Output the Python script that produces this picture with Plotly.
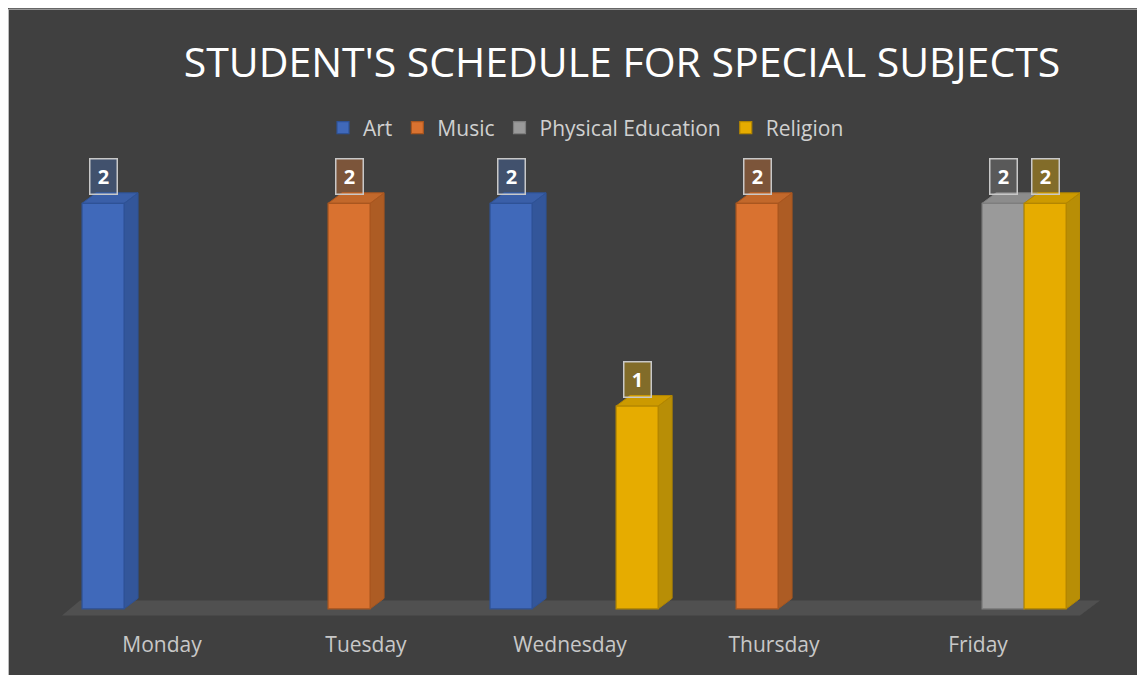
import plotly.graph_objects as go

# ---- data ----
days = ["Monday", "Tuesday", "Wednesday", "Thursday", "Friday"]
series_names = ["Art", "Music", "Physical Education", "Religion"]
art = [2, None, 2, None, None]
music = [None, 2, None, 2, None]
phys_ed = [None, None, None, None, 2]
religion = [None, None, 1, None, 2]

# ---- styles ----
front_colors = ["#4069BA", "#D97230", "#9A9A9A", "#E6AC00"]
edge_colors = ["#2E5296", "#A9561F", "#7E7E7E", "#B38600"]
side_colors = ["#33569A", "#AD5C24", "#808080", "#B88E06"]
top_colors = ["#3A5FA8", "#C2682B", "#8C8C8C", "#CC9A00"]
label_fill = ["rgba(68,114,196,0.35)", "rgba(237,125,49,0.35)",
              "rgba(165,165,165,0.25)", "rgba(255,192,0,0.35)"]

values = [art, music, phys_ed, religion]
bar_w = 0.206
offsets = [-0.289, -0.083, 0.123, 0.329]
dx, dy = 0.0686, 0.052  # pseudo-3D depth in axis units

fig = go.Figure()
shapes = []

# outer frame border
shapes.append(dict(type="rect", xref="paper", yref="paper",
                   x0=-0.0505, x1=1.09, y0=-0.15, y1=1.1795,
                   fillcolor="rgba(0,0,0,0)", line=dict(color="#BFBFBF", width=1),
                   layer="below"))
# floor (paper-referenced so it is not clipped at the plot edge)
shapes.append(dict(type="path", xref="paper", yref="paper",
                   path="M 0.002,0.0068 L 1.0,0.0068 L 1.0196,0.0357 L 0.0196,0.0357 Z",
                   fillcolor="#505050", line=dict(width=0), layer="below"))

for s, (name, vals) in enumerate(zip(series_names, values)):
    xs = [i + offsets[s] for i in range(len(days))]
    fig.add_trace(go.Bar(
        x=xs, y=vals, width=bar_w, name=name,
        marker=dict(color=front_colors[s], line=dict(color=edge_colors[s], width=1.2)),
        hoverinfo="name+y",
    ))
    for x, v in zip(xs, vals):
        if v is None:
            continue
        xl, xr = x - bar_w / 2, x + bar_w / 2
        # right side face
        shapes.append(dict(type="path", xref="x", yref="y", layer="below",
                           path=f"M {xr},0 L {xr},{v} L {xr+dx},{v+dy} L {xr+dx},{dy} Z",
                           fillcolor=side_colors[s], line=dict(color=edge_colors[s], width=1)))
        # top face
        shapes.append(dict(type="path", xref="x", yref="y", layer="below",
                           path=f"M {xl},{v} L {xr},{v} L {xr+dx},{v+dy} L {xl+dx},{v+dy} Z",
                           fillcolor=top_colors[s], line=dict(color=edge_colors[s], width=1)))
        fig.add_annotation(x=x, y=v, xref="x", yref="y", text=f"<b>{v}</b>",
                           showarrow=False, yanchor="bottom", yshift=8,
                           font=dict(family="Open Sans", size=20, color="white"),
                           bgcolor=label_fill[s], bordercolor="#C8C8C8",
                           borderwidth=1.5, borderpad=1, width=24, height=32)

fig.update_layout(
    width=1145, height=675,
    margin=dict(l=52, r=73, t=94, b=64, autoexpand=False),
    paper_bgcolor="#404040",
    plot_bgcolor="rgba(0,0,0,0)",
    barmode="overlay",
    shapes=shapes,
    title=dict(text="STUDENT'S SCHEDULE FOR SPECIAL SUBJECTS",
               x=614 / 1145, xanchor="center", xref="container",
               y=1 - 55 / 675, yanchor="middle", yref="container",
               font=dict(family="Open Sans", size=41, color="white")),
    legend=dict(orientation="h", x=578 / 1145, xanchor="center", xref="container",
                y=1 - 120 / 675, yanchor="middle", yref="container",
                font=dict(family="Open Sans", size=21, color="#D0D0D0"),
                bgcolor="rgba(0,0,0,0)", itemwidth=30),
    xaxis=dict(range=[-0.5, 4.5], tickvals=list(range(len(days))), ticktext=days,
               showgrid=False, zeroline=False, showline=False, ticks="",
               tickfont=dict(family="Open Sans", size=21, color="#C8C8C8"),
               ticklabelstandoff=11),
    yaxis=dict(range=[-0.05, 2.5], visible=False, showgrid=False),
    showlegend=True,
)

fig.write_html("out.html")
